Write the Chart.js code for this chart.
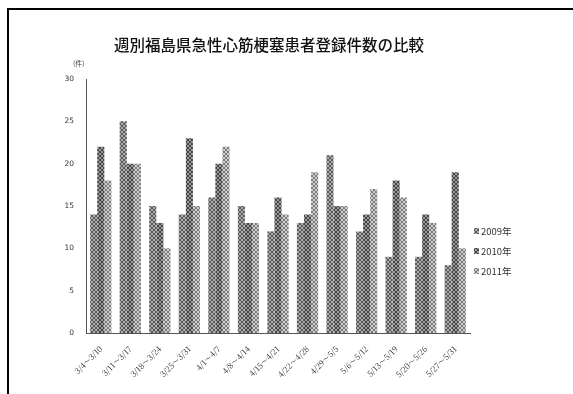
<!DOCTYPE html>
<html>
<head>
<meta charset="utf-8">
<script src="https://cdn.jsdelivr.net/npm/chart.js@4/dist/chart.umd.min.js"></script>
<style>
  html, body { margin: 0; padding: 0; background: #fff; }
  #wrap { position: relative; width: 573px; height: 394px; }
</style>
</head>
<body>
<div id="wrap"><canvas id="c" width="573" height="394"></canvas></div>
<script>
// Weekly registrations of acute myocardial infarction patients in Fukushima
const weeks = [
  '3/4～3/10', '3/11～3/17', '3/18～3/24', '3/25～3/31', '4/1～4/7',
  '4/8～4/14', '4/15～4/21', '4/22～4/28', '4/29～5/5', '5/6～5/12',
  '5/13～5/19', '5/20～5/26', '5/27～5/31'
];
const cases2009 = [14, 25, 15, 14, 16, 15, 12, 13, 21, 12, 9, 9, 8];
const cases2010 = [22, 20, 13, 23, 20, 13, 16, 14, 15, 14, 18, 14, 19];
const cases2011 = [18, 20, 10, 15, 22, 13, 14, 19, 15, 17, 16, 13, 10];
const seriesNames = ['2009年', '2010年', '2011年'];
const yTicks = [0, 5, 10, 15, 20, 25, 30];

const titleText = '週別福島県急性心筋梗塞患者登録件数の比較';
const unitText = '(件)';

// small dithered hatch fills
function hatch(bg, fg) {
  const p = document.createElement('canvas');
  p.width = 4; p.height = 4;
  const g = p.getContext('2d');
  g.fillStyle = bg; g.fillRect(0, 0, 4, 4);
  g.fillStyle = fg;
  for (let i = 0; i < 4; i++) {
    g.fillRect(i, i, 1, 1);
    g.fillRect(3 - i, i, 1, 1);
  }
  return document.getElementById('c').getContext('2d').createPattern(p, 'repeat');
}
const fills = [
  hatch('#acacac', '#5a5a5a'),
  hatch('#9c9c9c', '#444444'),
  hatch('#cdcdcd', '#7c7c7c')
];

const framePlugin = {
  id: 'frame',
  afterDraw(chart) {
    const ctx = chart.ctx;
    ctx.save();
    ctx.fillStyle = '#000';
    ctx.fillRect(7, 8, 566, 2);
    ctx.fillRect(7, 8, 2, 386);

    ctx.fillStyle = '#111';
    ctx.textAlign = 'center';
    ctx.textBaseline = 'middle';
    ctx.font = '500 15.5px "Noto Sans CJK JP"';
    ctx.fillText(titleText, 269, 45);

    ctx.fillStyle = '#444';
    ctx.font = '7px "Noto Sans CJK JP"';
    ctx.textAlign = 'left';
    ctx.fillText(unitText, 73, 63);

    // legend
    ctx.font = '9.5px "Noto Sans CJK JP"';
    const rows = [231, 251, 271];
    chart.data.datasets.forEach((ds, i) => {
      ctx.fillStyle = ds.backgroundColor;
      ctx.fillRect(474, rows[i] - 3, 5, 6);
      ctx.fillStyle = '#333';
      ctx.fillText(ds.label, 481, rows[i]);
    });
    ctx.restore();
  }
};

new Chart(document.getElementById('c'), {
  type: 'bar',
  data: {
    labels: weeks,
    datasets: [
      { label: seriesNames[0], data: cases2009, backgroundColor: fills[0] },
      { label: seriesNames[1], data: cases2010, backgroundColor: fills[1] },
      { label: seriesNames[2], data: cases2011, backgroundColor: fills[2] }
    ]
  },
  options: {
    responsive: false,
    devicePixelRatio: 1,
    animation: false,
    layout: { padding: { left: 0, right: 103, top: 79, bottom: 0 } },
    plugins: {
      legend: { display: false },
      title: { display: false },
      tooltip: { enabled: false }
    },
    datasets: { bar: { categoryPercentage: 0.72, barPercentage: 1.0 } },
    scales: {
      x: {
        grid: { display: false },
        border: { display: true, color: '#555', dash: [1, 2], width: 1 },
        ticks: {
          minRotation: 45, maxRotation: 45, autoSkip: false,
          color: '#222', padding: 3,
          font: { size: 8, family: '"Noto Serif CJK JP", "Noto Sans CJK JP"' }
        },
        afterFit(s) { s.height = 61; }
      },
      y: {
        min: 0, max: 30,
        grid: { display: false },
        border: { display: true, color: '#555', dash: [1, 2], width: 1 },
        afterBuildTicks(s) { s.ticks = yTicks.map(v => ({ value: v })); },
        ticks: {
          color: '#333', padding: 4,
          font: { size: 7.5, family: '"DejaVu Sans"' }
        },
        afterFit(s) { s.width = 86; }
      }
    }
  },
  plugins: [framePlugin]
});
</script>
</body>
</html>
